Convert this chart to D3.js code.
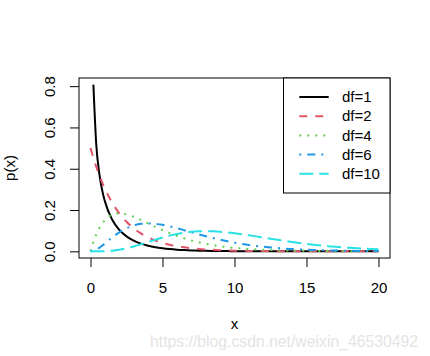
<!DOCTYPE html>
<html>
<head>
<meta charset="utf-8">
<script src="https://cdn.jsdelivr.net/npm/d3@7/dist/d3.min.js"></script>
<style>
  html, body { margin: 0; padding: 0; background: #fff; }
  svg { display: block; font-family: "Liberation Sans", Arial, sans-serif; }
</style>
</head>
<body>
<svg id="chart" width="430" height="356"></svg>
<script>
// ---- data (chi-square densities read at sample x positions) ----
const xs = [0, 0.2, 0.4, 0.6, 0.8, 1, 1.5, 2, 2.5, 3, 3.5, 4, 4.5, 5, 5.5, 6, 6.5, 7, 7.5, 8, 8.5, 9, 9.5, 10,
  10.5, 11, 11.5, 12, 12.5, 13, 13.5, 14, 14.5, 15, 15.5, 16, 16.5, 17, 17.5, 18, 18.5, 19, 19.5, 20];
const df1 = [null, 0.8072, 0.5164, 0.3815, 0.2990, 0.2420, 0.1539, 0.1038, 0.0723, 0.0514, 0.0371, 0.0270, 0.0198, 0.0147,
  0.0109, 0.0081, 0.0061, 0.0046, 0.0034, 0.0026, 0.0020, 0.0015, 0.0011, 0.0009, 0.0006, 0.0005, 0.0004, 0.0003,
  0.0002, 0.0002, 0.0001, 0.0001, 0.0001, 0.0001, 0.0000, 0.0000, 0.0000, 0.0000, 0.0000, 0.0000, 0.0000, 0.0000, 0.0000, 0.0000];
const df2 = [0.5, 0.4524, 0.4094, 0.3704, 0.3352, 0.3033, 0.2362, 0.1839, 0.1433, 0.1116, 0.0869, 0.0677, 0.0527, 0.0410,
  0.0320, 0.0249, 0.0194, 0.0151, 0.0118, 0.0092, 0.0071, 0.0056, 0.0043, 0.0034, 0.0026, 0.0020, 0.0016, 0.0012,
  0.0010, 0.0008, 0.0006, 0.0005, 0.0004, 0.0003, 0.0002, 0.0002, 0.0001, 0.0001, 0.0001, 0.0001, 0.0000, 0.0000, 0.0000, 0.0000];
const df4 = [0, 0.0452, 0.0819, 0.1111, 0.1341, 0.1516, 0.1771, 0.1839, 0.1791, 0.1673, 0.1521, 0.1353, 0.1186, 0.1026,
  0.0879, 0.0747, 0.0630, 0.0528, 0.0441, 0.0366, 0.0303, 0.0250, 0.0206, 0.0168, 0.0138, 0.0112, 0.0092, 0.0074,
  0.0060, 0.0049, 0.0040, 0.0032, 0.0026, 0.0021, 0.0017, 0.0013, 0.0011, 0.0009, 0.0007, 0.0006, 0.0004, 0.0004, 0.0003, 0.0002];
const df6 = [0, 0.0023, 0.0082, 0.0167, 0.0268, 0.0379, 0.0664, 0.0920, 0.1119, 0.1255, 0.1331, 0.1353, 0.1334, 0.1283,
  0.1209, 0.1120, 0.1024, 0.0925, 0.0827, 0.0733, 0.0644, 0.0562, 0.0488, 0.0421, 0.0362, 0.0309, 0.0263, 0.0223,
  0.0189, 0.0159, 0.0133, 0.0112, 0.0093, 0.0078, 0.0065, 0.0054, 0.0044, 0.0037, 0.0030, 0.0025, 0.0021, 0.0017, 0.0014, 0.0011];
const df10 = [0, 0.0000, 0.0000, 0.0001, 0.0004, 0.0008, 0.0031, 0.0077, 0.0146, 0.0235, 0.0340, 0.0451, 0.0563, 0.0668,
  0.0762, 0.0840, 0.0901, 0.0944, 0.0969, 0.0977, 0.0970, 0.0949, 0.0918, 0.0877, 0.0831, 0.0779, 0.0725, 0.0669,
  0.0614, 0.0559, 0.0506, 0.0456, 0.0409, 0.0365, 0.0324, 0.0286, 0.0252, 0.0221, 0.0193, 0.0168, 0.0147, 0.0127, 0.0110, 0.0095];

const seriesNames = ["df=1", "df=2", "df=4", "df=6", "df=10"];
const seriesValues = [df1, df2, df4, df6, df10];
const seriesColors = ["#000000", "#DF536B", "#61D04F", "#2297E6", "#28E2E5"];
const seriesDash = [null, "8,8", "2,6", "2,6,8,6", "14,6"];

const xTicks = [0, 5, 10, 15, 20];
const yTicks = [0, 0.2, 0.4, 0.6, 0.8];
const yTickLabels = ["0.0", "0.2", "0.4", "0.6", "0.8"];

// ---- layout ----
const svg = d3.select("#chart");
const L = 79, R = 390, T = 78, B = 258;

const xMin = d3.min(xs), xMax = d3.max(xs);
const yAll = seriesValues.flat().filter(v => v != null);
const yMin = 0, yMax = d3.max(yAll);
const xPad = (xMax - xMin) * 0.04, yPad = (yMax - yMin) * 0.04;

const x = d3.scaleLinear().domain([xMin - xPad, xMax + xPad]).range([L, R]);
const y = d3.scaleLinear().domain([yMin - yPad, yMax + yPad]).range([B, T]);

svg.append("defs").append("clipPath").attr("id", "clip")
  .append("rect").attr("x", L).attr("y", T).attr("width", R - L).attr("height", B - T);

const line = d3.line()
  .defined(d => d[1] != null)
  .x(d => x(d[0])).y(d => y(d[1]))
  .curve(d3.curveMonotoneX);

const g = svg.append("g").attr("clip-path", "url(#clip)");
seriesValues.forEach((vals, i) => {
  g.append("path")
    .attr("d", line(xs.map((xv, j) => [xv, vals[j]])))
    .attr("fill", "none")
    .attr("stroke", seriesColors[i])
    .attr("stroke-width", 2)
    .attr("stroke-dasharray", seriesDash[i])
    .attr("stroke-linejoin", "round");
});

// box
svg.append("rect").attr("x", L).attr("y", T).attr("width", R - L).attr("height", B - T)
  .attr("fill", "none").attr("stroke", "#000").attr("stroke-width", 1);

const fs = 15;
// x axis
const xa = svg.append("g").attr("transform", `translate(0,${B})`)
  .call(d3.axisBottom(x).tickValues(xTicks).tickSize(9).tickFormat(d3.format("d")));
xa.select(".domain").remove();
xa.selectAll("line").attr("stroke", "#000");
xa.selectAll("text").attr("y", 35).attr("dy", 0).attr("font-size", fs).attr("fill", "#000")
  .attr("font-family", "Liberation Sans, Arial, sans-serif");

// y axis
const ya = svg.append("g").attr("transform", `translate(${L},0)`)
  .call(d3.axisLeft(y).tickValues(yTicks).tickSize(9).tickFormat((d, i) => yTickLabels[i]));
ya.select(".domain").remove();
ya.selectAll("line").attr("stroke", "#000");
ya.selectAll("text")
  .attr("transform", "rotate(-90)")
  .attr("x", 0).attr("y", -24).attr("dy", 0)
  .attr("text-anchor", "middle")
  .attr("font-size", fs).attr("fill", "#000")
  .attr("font-family", "Liberation Sans, Arial, sans-serif");

// axis titles
svg.append("text").attr("x", (L + R) / 2).attr("y", 329).attr("text-anchor", "middle")
  .attr("font-size", fs).text("x");
svg.append("text").attr("transform", `translate(15,${(T + B) / 2}) rotate(-90)`)
  .attr("text-anchor", "middle").attr("font-size", fs).text("p(x)");

// legend
const lg = svg.append("g");
const legL = 283.5, legT = 78, legR = R, legB = 193;
lg.append("rect").attr("x", legL).attr("y", legT).attr("width", legR - legL).attr("height", legB - legT)
  .attr("fill", "#fff").attr("stroke", "#000").attr("stroke-width", 1);
seriesNames.forEach((name, i) => {
  const yy = 97 + i * 19.2;
  lg.append("line").attr("x1", 299.3).attr("x2", 328.7).attr("y1", yy).attr("y2", yy)
    .attr("stroke", seriesColors[i]).attr("stroke-width", 2).attr("stroke-dasharray", seriesDash[i]);
  lg.append("text").attr("x", 342).attr("y", yy).attr("dy", "0.35em").attr("font-size", fs).text(name);
});

// watermark
svg.append("text").attr("x", 150).attr("y", 347).attr("text-anchor", "start")
  .attr("font-size", 16).attr("textLength", 268).attr("lengthAdjust", "spacingAndGlyphs")
  .attr("fill", "#e4e4e4").text("https://blog.csdn.net/weixin_46530492");
</script>
</body>
</html>
